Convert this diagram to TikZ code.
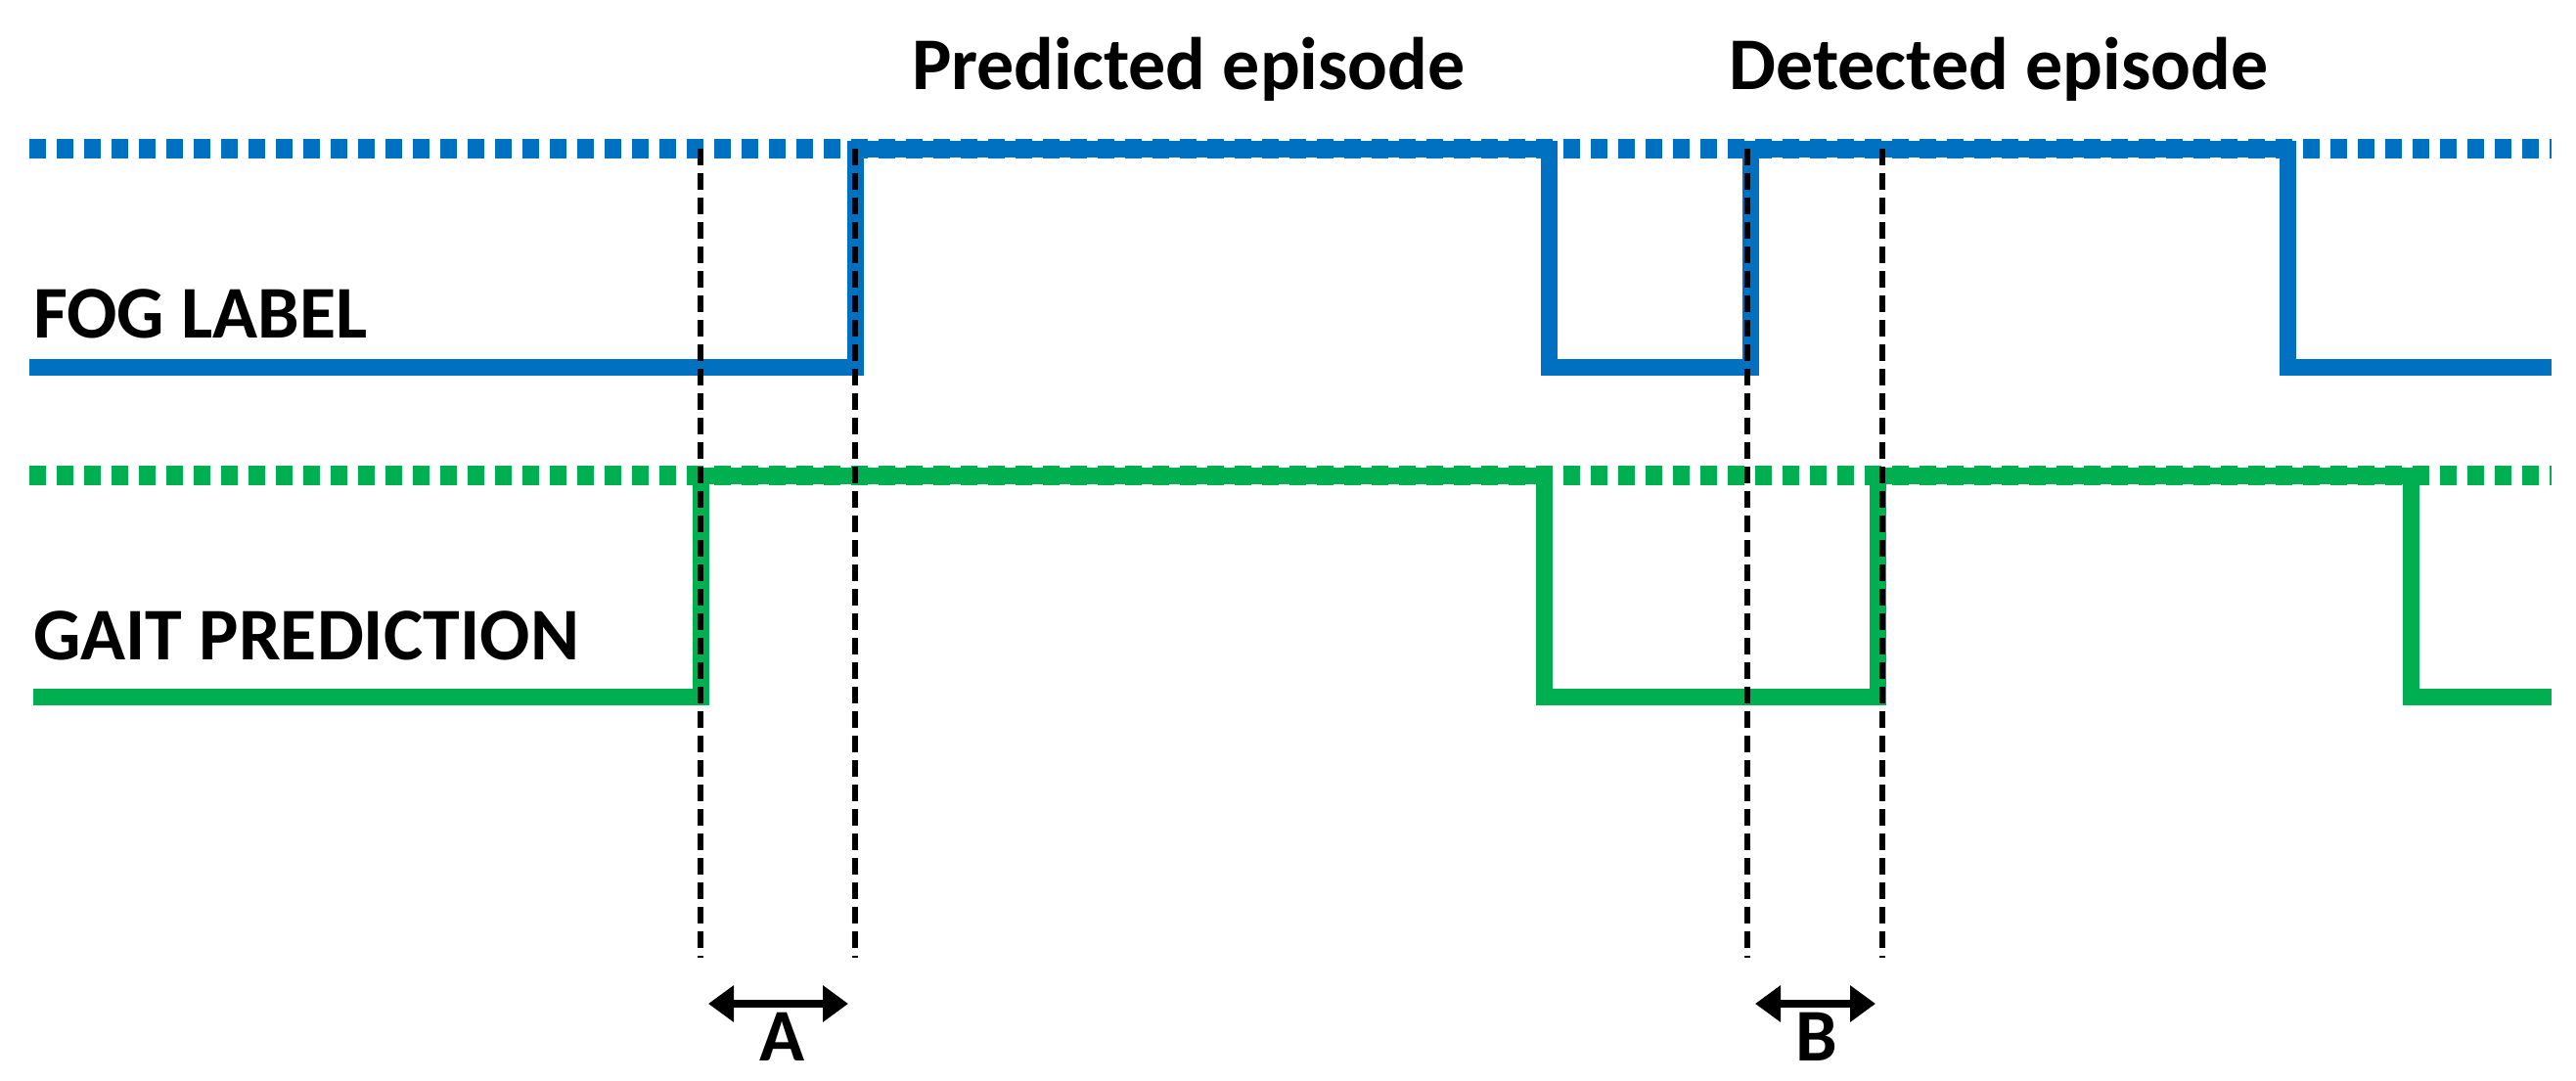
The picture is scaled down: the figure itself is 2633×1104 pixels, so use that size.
\documentclass[tikz,border=0pt]{standalone}
\usepackage{fontspec}
\setmainfont{Carlito}
\usetikzlibrary{arrows.meta}
\definecolor{fogblue}{RGB}{0,112,192}
\definecolor{gaitgreen}{RGB}{0,176,80}
\begin{document}
\begin{tikzpicture}[x=1pt,y=-1pt,
  sig/.style={line width=17pt,line join=miter},
  dotl/.style={line width=20pt,dash pattern=on 17pt off 11pt},
  guide/.style={black,line width=5.5pt,dash pattern=on 17pt off 8pt},
  dim/.style={black,line width=8pt,{Triangle[length=26pt,width=36pt]}-{Triangle[length=26pt,width=36pt]}},
  lbl/.style={font=\fontsize{76}{84}\selectfont\bfseries,inner sep=0pt}]
\useasboundingbox (0,0) rectangle (2633,1104);
% dotted reference levels
\draw[dotl,fogblue] (30,152) -- (2608,152);
\draw[dotl,gaitgreen] (30,486) -- (2608,486);
% signals
\draw[sig,fogblue] (30,375) -- (874,375) -- (874,152) -- (1583,152) -- (1583,375) -- (1789,375) -- (1789,152) -- (2338,152) -- (2338,375) -- (2608,375);
\draw[sig,gaitgreen] (34,712) -- (716,712) -- (716,486) -- (1578,486) -- (1578,712) -- (1919,712) -- (1919,486) -- (2464,486) -- (2464,712) -- (2608,712);
% guides
\coordinate (a1t) at (716,152); \coordinate (a1b) at (716,979);
\coordinate (a2t) at (874,152); \coordinate (a2b) at (874,979);
\coordinate (b1t) at (1786,152); \coordinate (b1b) at (1786,979);
\coordinate (b2t) at (1924,152); \coordinate (b2b) at (1924,979);
\draw[guide] (a1t) -- (a1b); \draw[guide] (a2t) -- (a2b);
\draw[guide] (b1t) -- (b1b); \draw[guide] (b2t) -- (b2b);
\coordinate (aL) at (724,1026); \coordinate (aR) at (867,1026);
\coordinate (bL) at (1794,1026); \coordinate (bR) at (1917,1026);
\draw[dim] (aL) -- (aR);
\draw[dim] (bL) -- (bR);
% labels
\node[lbl] (pred) at (1215,71) {Predicted episode};
\node[lbl] (det) at (2043,71) {Detected episode};
\node[lbl,anchor=west] (fog) at (34,321) {FOG LABEL};
\node[lbl,anchor=west] (gait) at (34,650) {GAIT PREDICTION};
\node[lbl] (A) at (800,1060) {A};
\node[lbl] (B) at (1857,1060) {B};
\end{tikzpicture}
\end{document}
